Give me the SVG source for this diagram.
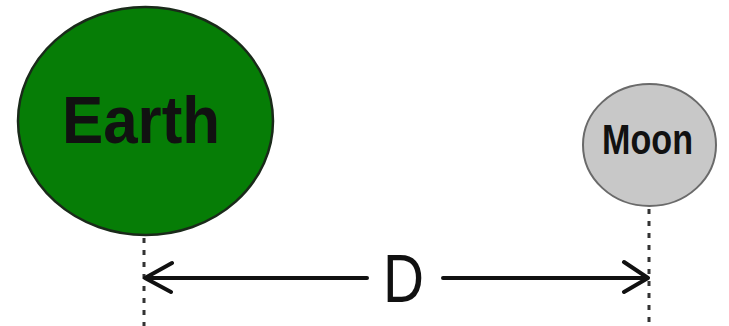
<svg xmlns="http://www.w3.org/2000/svg" width="729" height="326" viewBox="0 0 729 326">
<style>
.lbl{font-family:"Liberation Sans",Arial,sans-serif;text-anchor:middle;fill:#111}
.dash{stroke:#333;stroke-width:3;stroke-dasharray:5 7;fill:none}
.arr{stroke:#111;stroke-width:4;fill:none;stroke-linecap:round;stroke-linejoin:round}
</style>
<rect width="729" height="326" fill="#ffffff"/>
<g id="earth">
<ellipse cx="145.5" cy="121" rx="127.5" ry="114" fill="#067d06" stroke="#1a2a1a" stroke-width="2.5"/>
<text class="lbl" x="141" y="143" font-size="67" font-weight="bold" textLength="158" lengthAdjust="spacingAndGlyphs">Earth</text>
</g>
<g id="moon">
<ellipse cx="649.5" cy="145" rx="66.5" ry="61" fill="#c8c8c8" stroke="#6a6a6a" stroke-width="2"/>
<text class="lbl" x="647.5" y="154" font-size="42" font-weight="bold" textLength="91" lengthAdjust="spacingAndGlyphs">Moon</text>
</g>
<g id="connectors">
<line class="dash" x1="144" y1="238" x2="144" y2="326"/>
<line class="dash" x1="649" y1="209" x2="649" y2="326"/>
<path class="arr" d="M367 278 H145 M172 263 L145 278 L171 292"/>
<path class="arr" d="M443 278 H648 M624 262 L648 278 L624 292"/>
<text class="lbl" x="403.5" y="302" font-size="68" textLength="41" lengthAdjust="spacingAndGlyphs">D</text>
</g>
</svg>
